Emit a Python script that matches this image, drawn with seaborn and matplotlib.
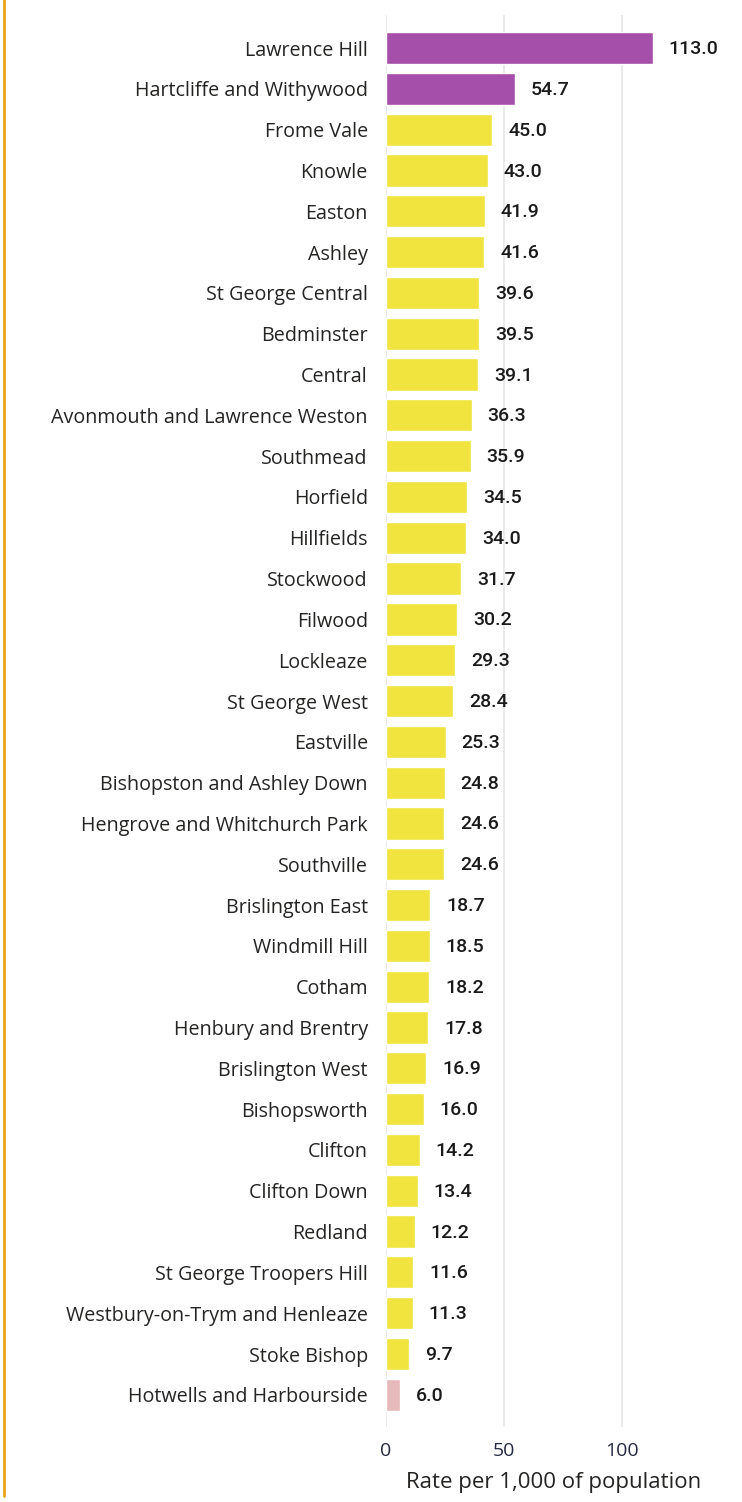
import matplotlib.pyplot as plt
import seaborn as sns
import pandas as pd
from matplotlib.lines import Line2D

# Ward rates per 1,000 population
wards = [
    "Lawrence Hill", "Hartcliffe and Withywood", "Frome Vale", "Knowle", "Easton",
    "Ashley", "St George Central", "Bedminster", "Central",
    "Avonmouth and Lawrence Weston", "Southmead", "Horfield", "Hillfields",
    "Stockwood", "Filwood", "Lockleaze", "St George West", "Eastville",
    "Bishopston and Ashley Down", "Hengrove and Whitchurch Park", "Southville",
    "Brislington East", "Windmill Hill", "Cotham", "Henbury and Brentry",
    "Brislington West", "Bishopsworth", "Clifton", "Clifton Down", "Redland",
    "St George Troopers Hill", "Westbury-on-Trym and Henleaze", "Stoke Bishop",
    "Hotwells and Harbourside",
]
rates = [
    113.0, 54.7, 45.0, 43.0, 41.9, 41.6, 39.6, 39.5, 39.1, 36.3, 35.9, 34.5,
    34.0, 31.7, 30.2, 29.3, 28.4, 25.3, 24.8, 24.6, 24.6, 18.7, 18.5, 18.2,
    17.8, 16.9, 16.0, 14.2, 13.4, 12.2, 11.6, 11.3, 9.7, 6.0,
]
bands = ["high"] * 2 + ["mid"] * 31 + ["low"]
band_colors = {"high": "#A64FAA", "mid": "#F2E43F", "low": "#E6B9BB"}

df = pd.DataFrame({"ward": wards, "rate": rates, "band": bands})

sns.set_style("white")
plt.rcParams["font.family"] = ["Open Sans", "DejaVu Sans"]

fig = plt.figure(figsize=(7.42, 15.02), dpi=100)
ax = fig.add_axes([0.5202, 0.0499, 0.4798, 0.9401])

sns.barplot(data=df, x="rate", y="ward", hue="band", palette=band_colors,
            dodge=False, legend=False, width=0.79, saturation=1, ax=ax)

ax.set_xlim(0, 150.8)
ax.set_ylim(33.79, -0.81)
ax.set_xticks([0, 50, 100])
ax.xaxis.grid(True, color="#E6E6E6", linewidth=1.2)
ax.set_axisbelow(True)
for s in ax.spines.values():
    s.set_visible(False)

ax.tick_params(axis="y", length=0, pad=13, labelsize=14.2, labelcolor="#252423")
ax.tick_params(axis="x", length=0, pad=11, labelsize=14, labelcolor="#252A40")
ax.set_ylabel("")
ax.set_xlabel("Rate per 1,000 of population", fontsize=16, color="#252423",
              va="center")
ax.xaxis.set_label_coords(0.472, -0.0396)

for i, v in enumerate(rates):
    ax.annotate(f"{v:.1f}", xy=(v, i), xytext=(16, -1), textcoords="offset pixels",
                ha="left", va="center", fontsize=14, fontweight="medium",
                color="#1A1A1A", family=["Roboto", "DejaVu Sans"])

# orange frame edge on the left
fig.add_artist(Line2D([0.0055, 0.0055], [0.004, 1.0], transform=fig.transFigure,
                      color="#E8A317", linewidth=2))

fig.savefig("out.png", dpi=100)
